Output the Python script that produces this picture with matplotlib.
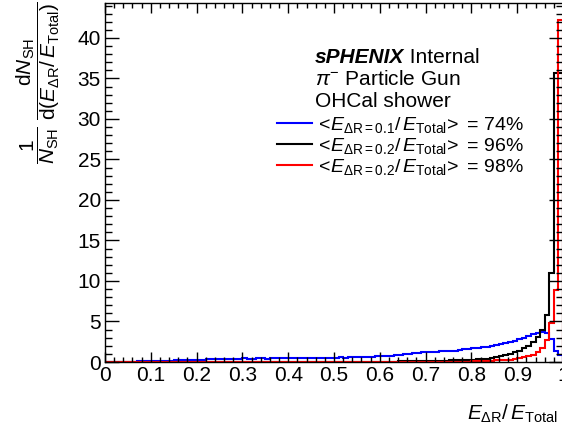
import numpy as np
import matplotlib
matplotlib.use("Agg")
import matplotlib.pyplot as plt
from matplotlib.ticker import MultipleLocator

plt.rcParams['font.family'] = ['Liberation Sans', 'DejaVu Sans']
plt.rcParams['mathtext.fontset'] = 'custom'
plt.rcParams['mathtext.rm'] = 'Liberation Sans'
plt.rcParams['mathtext.it'] = 'Liberation Sans:italic'
plt.rcParams['mathtext.bf'] = 'Liberation Sans:bold'

# 100 bins of E_dR / E_Total from 0 to 1
bin_edges = np.linspace(0, 1, 101)

# <E_dR=0.1 / E_Total> = 74%
blue_vals = [
    0, 0, 0, 0, 0, 0, 0, 0.08, 0.08, 0.1,
    0.12, 0.15, 0.12, 0.18, 0.15, 0.25, 0.22, 0.28, 0.25, 0.3,
    0.2, 0.3, 0.35, 0.4, 0.37, 0.42, 0.38, 0.4, 0.42, 0.38,
    0.45, 0.42, 0.4, 0.45, 0.47, 0.43, 0.45, 0.48, 0.45, 0.47,
    0.45, 0.48, 0.5, 0.46, 0.5, 0.48, 0.52, 0.55, 0.5, 0.55,
    0.53, 0.57, 0.55, 0.6, 0.57, 0.62, 0.6, 0.65, 0.62, 0.7,
    0.7, 0.75, 0.8, 0.85, 0.9, 0.95, 1.0, 1.1, 1.15, 1.2,
    1.2, 1.25, 1.2, 1.3, 1.35, 1.3, 1.4, 1.5, 1.55, 1.6,
    1.7, 1.75, 1.85, 1.9, 2.0, 2.1, 2.25, 2.35, 2.5, 2.65,
    2.8, 2.95, 3.15, 3.4, 3.6, 3.7, 3.6, 2.8, 1.3, 0.9,
]

# <E_dR=0.2 / E_Total> = 96%
black_vals = [
    0, 0, 0, 0, 0, 0, 0, 0, 0, 0,
    0, 0, 0, 0, 0, 0, 0, 0, 0, 0,
    0, 0, 0, 0, 0, 0, 0, 0, 0, 0,
    0, 0, 0, 0, 0, 0, 0, 0, 0, 0,
    0.01, 0.01, 0.01, 0.01, 0.01, 0.02, 0.02, 0.02, 0.02, 0.02,
    0.03, 0.03, 0.03, 0.03, 0.03, 0.04, 0.04, 0.04, 0.04, 0.04,
    0.05, 0.05, 0.06, 0.06, 0.07, 0.08, 0.08, 0.1, 0.1, 0.12,
    0.12, 0.13, 0.15, 0.15, 0.17, 0.2, 0.2, 0.22, 0.25, 0.28,
    0.3, 0.33, 0.38, 0.42, 0.5, 0.6, 0.75, 0.85, 1.0, 1.2,
    1.4, 1.7, 2.0, 2.5, 3.1, 3.9, 5.8, 11.0, 35.7, 35.7,
]

# <E_dR=0.2 / E_Total> = 98%
red_vals = [
    0, 0, 0, 0, 0, 0, 0, 0, 0, 0,
    0, 0, 0, 0, 0, 0, 0, 0, 0, 0,
    0, 0, 0, 0, 0, 0, 0, 0, 0, 0,
    0, 0, 0, 0, 0, 0, 0, 0, 0, 0,
    0, 0, 0, 0, 0, 0, 0, 0, 0, 0,
    0, 0, 0, 0, 0, 0, 0, 0, 0, 0,
    0, 0, 0, 0, 0, 0, 0, 0, 0, 0,
    0.03, 0.03, 0.03, 0.03, 0.03, 0.05, 0.05, 0.05, 0.05, 0.05,
    0.07, 0.08, 0.1, 0.12, 0.15, 0.2, 0.2, 0.25, 0.3, 0.4,
    0.5, 0.6, 0.75, 0.9, 1.2, 1.7, 2.7, 4.8, 8.9, 42.2,
]

labels = [
    r'$<\!E_{\Delta\mathrm{R=0.1}}/\,E_{\mathrm{Total}}\!>$ = 74%',
    r'$<\!E_{\Delta\mathrm{R=0.2}}/\,E_{\mathrm{Total}}\!>$ = 96%',
    r'$<\!E_{\Delta\mathrm{R=0.2}}/\,E_{\mathrm{Total}}\!>$ = 98%',
]

fig = plt.figure(figsize=(5.62, 4.34), dpi=100)
ax = fig.add_axes([105/562, 72/434, 458/562, 359/434])

h_blue = ax.stairs(blue_vals, bin_edges, color='#0000ff', lw=1.5)
h_black = ax.stairs(black_vals, bin_edges, color='black', lw=1.5)
h_red = ax.stairs(red_vals, bin_edges, color='#ff0000', lw=1.5)

ax.set_xlim(0, 1)
ax.set_ylim(0, 1.05 * max(red_vals))

ax.xaxis.set_minor_locator(MultipleLocator(0.02))
ax.yaxis.set_major_locator(MultipleLocator(5))
ax.yaxis.set_minor_locator(MultipleLocator(1))
ax.set_xticks(np.arange(0, 1.01, 0.1))
ax.set_xticklabels(['0', '0.1', '0.2', '0.3', '0.4', '0.5', '0.6', '0.7', '0.8', '0.9', '1'])

ax.tick_params(which='both', direction='in', top=True, right=True, labelsize=15, width=1)
ax.tick_params(axis='x', which='major', length=7.2, pad=3)
ax.tick_params(axis='x', which='minor', length=3.6)
ax.tick_params(axis='y', which='major', length=10, pad=3)
ax.tick_params(axis='y', which='minor', length=5)
for s in ax.spines.values():
    s.set_linewidth(1.0)

# header text
t1 = ax.text(0.4585, 0.833, 'sPHENIX', transform=ax.transAxes, fontsize=15,
             fontweight='bold', fontstyle='italic', va='baseline')
ax.annotate(' Internal', xy=(1, 0), xycoords=t1, va='bottom', fontsize=15)
ax.text(0.4585, 0.772, r'$\pi^{-}$ Particle Gun', transform=ax.transAxes,
        fontsize=15, va='baseline')
ax.text(0.4585, 0.710, 'OHCal shower', transform=ax.transAxes, fontsize=15,
        va='baseline')

ax.legend([h_blue, h_black, h_red], labels, loc='upper left',
          bbox_to_anchor=(0.375, 0.689), frameon=False, fontsize=14,
          handlelength=1.8, handletextpad=0.15, labelspacing=0.05,
          borderaxespad=0, borderpad=0)

fig.text(558/562, 14/434, r'$E_{\Delta\mathrm{R}}/\,E_{\mathrm{Total}}$',
         ha='right', va='baseline', fontsize=15)
fig.text(38/562, 0.997,
         r'$\dfrac{1}{N_{\mathrm{SH}}}\ \dfrac{\mathrm{d}N_{\mathrm{SH}}}{\mathrm{d}(E_{\Delta\mathrm{R}}/\,E_{\mathrm{Total}})}$',
         rotation=90, ha='center', va='top', fontsize=15)

fig.savefig('out.png', dpi=100)
